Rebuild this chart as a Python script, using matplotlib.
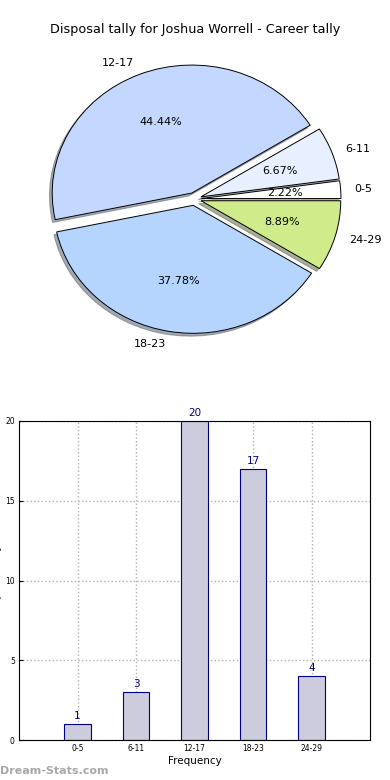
import matplotlib
matplotlib.use("Agg")
import matplotlib.pyplot as plt

categories = ["0-5", "6-11", "12-17", "18-23", "24-29"]
tallies = [1, 3, 20, 17, 4]
pie_colors = ["#ffffff", "#e8f0ff", "#c4d8ff", "#b5d5ff", "#d0ec8a"]
title = "Disposal tally for Joshua Worrell - Career tally"

W, H = 390, 780
fig = plt.figure(figsize=(W / 100, H / 100), dpi=100)

# ---- Pie ----
axp = fig.add_axes([0, (H - 350) / H, 1, 300 / H])
wedges, texts, autotexts = axp.pie(
    tallies, labels=categories, colors=pie_colors, explode=[0.05] * 5,
    autopct="%1.2f%%", shadow={"ox": -0.014, "oy": -0.016, "shade": 0.6},
    startangle=0,
    wedgeprops=dict(edgecolor="black", linewidth=0.7),
    textprops=dict(fontsize=8))
axp.set_aspect("auto")
cx, cy, sx, sy = 194.4, 199.0, 139.6, 128.0
axp.set_xlim(-cx / sx, (W - cx) / sx)
axp.set_ylim(-(350 - cy) / sy, (cy - 50) / sy)
axp.axis("off")
fig.text(0.5, 1 - 30 / H, title, ha="center", va="center", fontsize=9.2)

# ---- Bars ----
axb = fig.add_axes([19 / W, 40 / H, 351 / W, 319 / H])
x = list(range(len(categories)))
bars = axb.bar(x, tallies, width=0.45, color="#ccccdd", edgecolor="navy",
               linewidth=0.8, zorder=2)
for xi, v in zip(x, tallies):
    axb.text(xi, v + 0.2, str(v), ha="center", va="bottom", color="navy", fontsize=7.5)
axb.set_xlim(-1, 5)
axb.set_ylim(0, 20)
axb.set_xticks(x)
axb.set_xticklabels(categories, fontsize=5.5)
axb.set_yticks([0, 5, 10, 15, 20])
axb.tick_params(axis="y", labelsize=5.5, direction="in", length=3, pad=3)
axb.tick_params(axis="x", direction="in", length=3, pad=3)
axb.grid(True, linestyle=":", color="#b0b0b0", linewidth=1, zorder=0)
axb.set_axisbelow(True)
axb.set_xlabel("Frequency", fontsize=7.5, labelpad=2)
fig.text(-3 / W, 1 - 580 / H, "Disposal Tally", rotation=90, ha="center",
         va="center", fontsize=7.5)

fig.text(0 / W, 1 - 771 / H, "Dream-Stats.com", ha="left", va="center",
         fontsize=8, color="#a8a8a8", fontweight="bold")

fig.savefig("out.png", dpi=100)
